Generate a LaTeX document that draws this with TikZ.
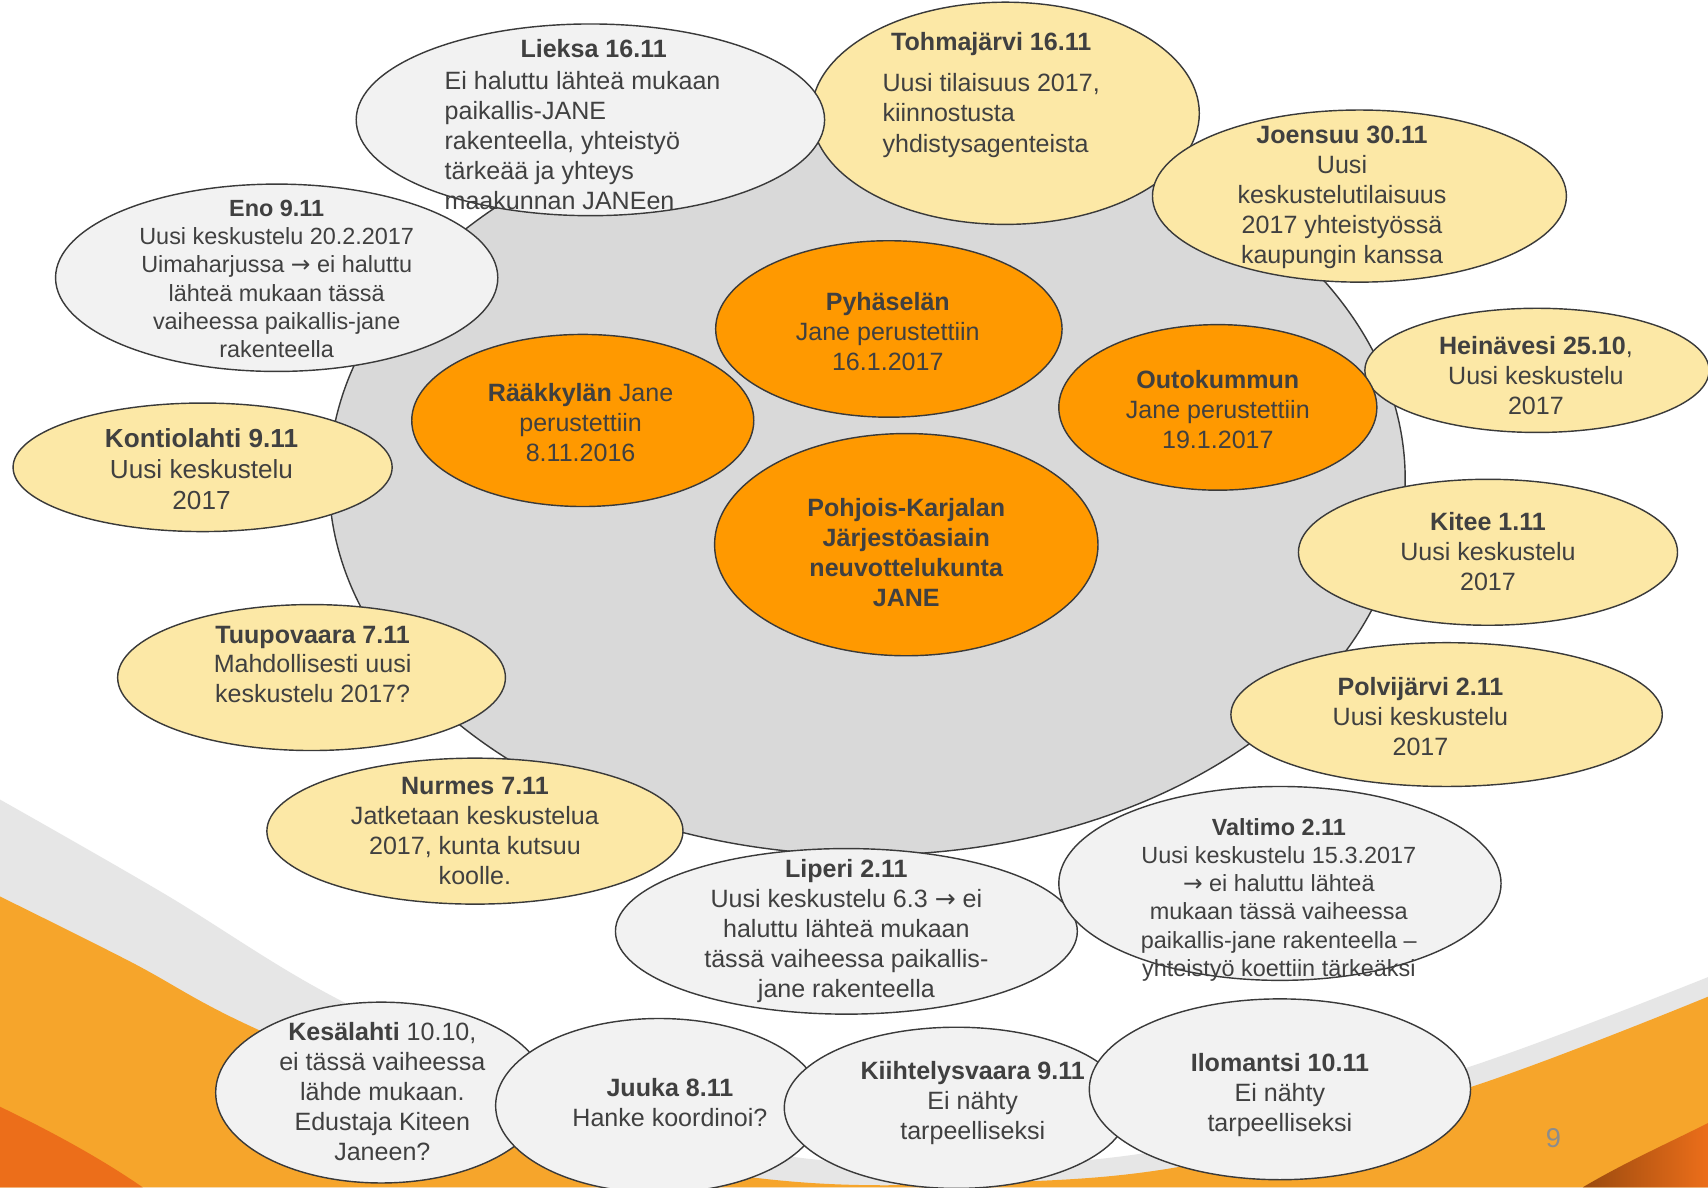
\documentclass[tikz,border=0pt]{standalone}
\usepackage{fontspec}
\setmainfont{Liberation Sans}
\newfontfamily\arrfont{DejaVu Sans}
\newcommand{\rarr}{{\arrfont →}}
\usetikzlibrary{shapes.geometric}
\definecolor{lineclr}{HTML}{3A3A3A}
\definecolor{txtclr}{HTML}{404040}
\definecolor{bubgray}{HTML}{F2F2F2}
\definecolor{bubyel}{HTML}{FCE8A6}
\definecolor{bubor}{HTML}{FF9900}
\definecolor{biggray}{HTML}{D9D9D9}
\definecolor{bandgray}{HTML}{E6E6E6}
\definecolor{swoosh}{HTML}{F6A52B}
\definecolor{darkor}{HTML}{EC6E1A}
\definecolor{brownor}{HTML}{9A4A0E}
\definecolor{pgnum}{HTML}{8C8C8C}
\tikzset{
  bub/.style={ellipse, draw=lineclr, line width=1.3pt, inner sep=0pt, outer sep=0pt},
  gbub/.style={bub, fill=bubgray},
  ybub/.style={bub, fill=bubyel},
  obub/.style={bub, fill=bubor},
  txt/.style={text=txtclr, align=center, inner sep=0pt, font=\fontsize{23}{27.5}\selectfont},
  smalltxt/.style={font=\fontsize{21.5}{26}\selectfont},
  bigtxt/.style={font=\fontsize{24}{28.5}\selectfont},
}
\begin{document}
\begin{tikzpicture}[x=1pt,y=-1pt]
\useasboundingbox (0,0) rectangle (1568,1090);
\clip (0,0) rectangle (1568,1090);
\fill[white] (0,0) rectangle (1568,1090);
% background swoosh
\fill[bandgray] plot[smooth, tension=0.6] coordinates {(0,734) (150,820) (306,915) (500,1005) (700,1058) (900,1070) (1100,1050) (1347,980) (1568,897)} -- (1568,1090) -- (0,1090) -- cycle;
\fill[swoosh] plot[smooth, tension=0.6] coordinates {(0,823) (120,883) (232,943) (450,1035) (700,1082) (900,1086) (1100,1068) (1350,998) (1568,915)} -- (1568,1090) -- (0,1090) -- cycle;
\fill[darkor] (0,1016) .. controls (50,1040) and (95,1065) .. (131,1090) -- (0,1090) -- cycle;
\shade[left color=brownor, right color=darkor] (1453,1090) .. controls (1490,1068) and (1530,1050) .. (1568,1031) -- (1568,1090) -- cycle;
\node[text=pgnum, inner sep=0pt, font=\fontsize{25}{25}\selectfont] (pg) at (1426,1045) {9};

% big grey ellipse
\node[bub, fill=biggray, minimum width=988pt, minimum height=690pt] (core) at (796,440) {};

% Tohmajarvi
\node[ybub, minimum width=356pt, minimum height=204pt] (toh) at (923,104) {};
\node[txt] (toh-t) at (910,40) {\textbf{Tohmajärvi 16.11}};
\node[txt, anchor=west, align=left, font=\fontsize{23}{28}\selectfont] (toh-b) at (810,106) {Uusi tilaisuus 2017,\\kiinnostusta\\yhdistysagenteista};

% Lieksa
\node[gbub, minimum width=430pt, minimum height=176pt] (lie) at (542,110) {};
\node[txt] (lie-t) at (545,45) {\textbf{Lieksa 16.11}};
\node[txt, anchor=west, align=left] (lie-b) at (408,129) {Ei haluttu lähteä mukaan\\paikallis-JANE\\rakenteella, yhteistyö\\tärkeää ja yhteys\\maakunnan JANEen};

% Joensuu
\node[ybub, minimum width=380pt, minimum height=158pt] (joe) at (1248,180) {};
\node[txt] (joe-t) at (1232,181) {\textbf{Joensuu 30.11}\\Uusi\\keskustelutilaisuus\\2017 yhteistyössä\\kaupungin kanssa};

% Eno
\node[gbub, minimum width=406pt, minimum height=172pt] (eno) at (254,255) {};
\node[txt, smalltxt] (eno-t) at (254,256) {\textbf{Eno 9.11}\\Uusi keskustelu 20.2.2017\\Uimaharjussa \rarr{} ei haluttu\\lähteä mukaan tässä\\vaiheessa paikallis-jane\\rakenteella};

% Kontiolahti
\node[ybub, minimum width=348pt, minimum height=118pt] (kon) at (186,429) {};
\node[txt, bigtxt] (kon-t) at (185,431) {\textbf{Kontiolahti 9.11}\\Uusi keskustelu\\2017};

% Tuupovaara
\node[ybub, minimum width=356pt, minimum height=134pt] (tuu) at (286,622) {};
\node[txt] (tuu-t) at (287,610) {\textbf{Tuupovaara 7.11}\\Mahdollisesti uusi\\keskustelu 2017?};

% Nurmes
\node[ybub, minimum width=382pt, minimum height=134pt] (nur) at (436,763) {};
\node[txt] (nur-t) at (436,763) {\textbf{Nurmes 7.11}\\Jatketaan keskustelua\\2017, kunta kutsuu\\koolle.};

% Heinavesi
\node[ybub, minimum width=316pt, minimum height=114pt] (hei) at (1411,340) {};
\node[txt] (hei-t) at (1410,345) {\textbf{Heinävesi 25.10},\\Uusi keskustelu\\2017};

% Kitee
\node[ybub, minimum width=348pt, minimum height=134pt] (kit) at (1366,507) {};
\node[txt] (kit-t) at (1366,506) {\textbf{Kitee 1.11}\\Uusi keskustelu\\2017};

% Polvijarvi
\node[ybub, minimum width=396pt, minimum height=132pt] (pol) at (1328,656) {};
\node[txt] (pol-t) at (1304,658) {\textbf{Polvijärvi 2.11}\\Uusi keskustelu\\2017};

% Liperi
\node[gbub, minimum width=424pt, minimum height=152pt] (lip) at (777,855) {};
\node[txt] (lip-t) at (777,855) {\textbf{Liperi 2.11}\\Uusi keskustelu 6.3 \rarr{} ei\\haluttu lähteä mukaan\\tässä vaiheessa paikallis-\\jane rakenteella};

% Valtimo
\node[gbub, minimum width=406pt, minimum height=178pt] (val) at (1175,811) {};
\node[txt, smalltxt] (val-t) at (1174,826) {\textbf{Valtimo 2.11}\\Uusi keskustelu 15.3.2017\\\rarr{} ei haluttu lähteä\\mukaan tässä vaiheessa\\paikallis-jane rakenteella –\\yhteistyö koettiin tärkeäksi};

% Kesalahti
\node[gbub, minimum width=304pt, minimum height=166pt] (kes) at (350,1003) {};
\node[txt] (kes-t) at (351,1002) {\textbf{Kesälahti} 10.10,\\ei tässä vaiheessa\\lähde mukaan.\\Edustaja Kiteen\\Janeen?};

% Juuka
\node[gbub, minimum width=300pt, minimum height=160pt] (juu) at (605,1015) {};
\node[txt] (juu-t) at (615,1012) {\textbf{Juuka 8.11}\\Hanke koordinoi?};

% Kiihtelysvaara
\node[gbub, minimum width=316pt, minimum height=148pt] (kii) at (878,1017) {};
\node[txt] (kii-t) at (893,1013) {\textbf{Kiihtelysvaara 9.11}\\Ei nähty\\tarpeelliseksi};

% Ilomantsi
\node[gbub, minimum width=350pt, minimum height=166pt] (ilo) at (1175,1000) {};
\node[txt] (ilo-t) at (1175,1005) {\textbf{Ilomantsi 10.11}\\Ei nähty\\tarpeelliseksi};

% orange core circles
\node[obub, minimum width=318pt, minimum height=162pt] (pyh) at (816,302) {};
\node[txt] (pyh-t) at (815,304) {\textbf{Pyhäselän}\\Jane perustettiin\\16.1.2017};

\node[obub, minimum width=314pt, minimum height=158pt] (raa) at (535,386) {};
\node[txt] (raa-t) at (533,388) {\textbf{Rääkkylän} Jane\\perustettiin\\8.11.2016};

\node[obub, minimum width=292pt, minimum height=152pt] (out) at (1118,374) {};
\node[txt] (out-t) at (1118,376) {\textbf{Outokummun}\\Jane perustettiin\\19.1.2017};

\node[obub, minimum width=352pt, minimum height=204pt] (pk) at (832,500) {};
\node[txt] (pk-t) at (832,507) {\textbf{Pohjois-Karjalan}\\\textbf{Järjestöasiain}\\\textbf{neuvottelukunta}\\\textbf{JANE}};
\end{tikzpicture}
\end{document}
